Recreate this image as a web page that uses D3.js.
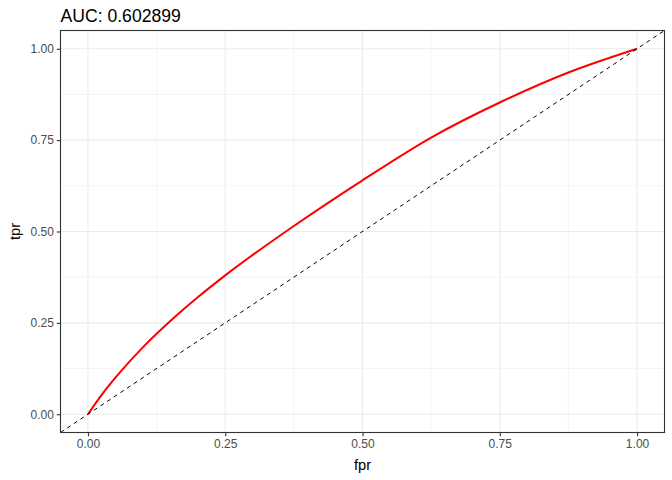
<!DOCTYPE html>
<html lang="en">
<head>
<meta charset="UTF-8">
<title>AUC: 0.602899</title>
<style>
body { margin: 0; background: #fff; }
svg text { font-family: 'Liberation Sans', Arial, sans-serif; }
.tick text { fill: #4d4d4d; font-size: 12px; }
</style>
</head>
<body>
<svg id="chart" width="672" height="480"></svg>
<script src="https://d3js.org/d3.v7.min.js"></script>
<script>
// roc points
var fpr = [0, 0.025, 0.05, 0.1, 0.15, 0.2, 0.25, 0.375, 0.5, 0.625, 0.75, 0.875, 1];
var tpr = [0, 0.053, 0.10, 0.183, 0.255, 0.32, 0.38, 0.515, 0.64, 0.757, 0.853, 0.935, 1];
var ticks = [0, 0.25, 0.5, 0.75, 1];
var minorTicks = [0.125, 0.375, 0.625, 0.875];

var svg = d3.select("#chart");
var pLeft = 60.5, pRight = 664.5, pTop = 30.5, pBottom = 432.5;

var x = d3.scaleLinear().domain([-0.05, 1.05]).range([pLeft, pRight]);
var y = d3.scaleLinear().domain([-0.05, 1.05]).range([pBottom, pTop]);

svg.append("rect").attr("width", 672).attr("height", 480).attr("fill", "#fff");

svg.append("defs").append("clipPath").attr("id", "panel")
  .append("rect").attr("x", pLeft).attr("y", pTop)
  .attr("width", pRight - pLeft).attr("height", pBottom - pTop);

var grid = svg.append("g");
grid.selectAll(".vmin").data(minorTicks).enter().append("line")
  .attr("x1", d => x(d)).attr("x2", d => x(d)).attr("y1", pTop).attr("y2", pBottom)
  .attr("stroke", "#ebebeb").attr("stroke-width", 0.55);
grid.selectAll(".hmin").data(minorTicks).enter().append("line")
  .attr("y1", d => y(d)).attr("y2", d => y(d)).attr("x1", pLeft).attr("x2", pRight)
  .attr("stroke", "#ebebeb").attr("stroke-width", 0.55);
grid.selectAll(".vmaj").data(ticks).enter().append("line")
  .attr("x1", d => x(d)).attr("x2", d => x(d)).attr("y1", pTop).attr("y2", pBottom)
  .attr("stroke", "#ebebeb").attr("stroke-width", 1.1);
grid.selectAll(".hmaj").data(ticks).enter().append("line")
  .attr("y1", d => y(d)).attr("y2", d => y(d)).attr("x1", pLeft).attr("x2", pRight)
  .attr("stroke", "#ebebeb").attr("stroke-width", 1.1);

var pts = fpr.map((f, i) => [f, tpr[i]]);
var line = d3.line().x(d => x(d[0])).y(d => y(d[1])).curve(d3.curveMonotoneX);

svg.append("path").datum(pts)
  .attr("d", line)
  .attr("fill", "none").attr("stroke", "#ff0000").attr("stroke-width", 2);

// diagonal reference line
svg.append("line").attr("clip-path", "url(#panel)")
  .attr("x1", x(-0.05)).attr("y1", y(-0.05)).attr("x2", x(1.05)).attr("y2", y(1.05))
  .attr("stroke", "#000").attr("stroke-width", 1).attr("stroke-dasharray", "4,4");

svg.append("rect").attr("x", pLeft).attr("y", pTop)
  .attr("width", pRight - pLeft).attr("height", pBottom - pTop)
  .attr("fill", "none").attr("stroke", "#333333").attr("stroke-width", 1.1);

var fmt = d3.format(".2f");
var xAxis = svg.append("g").attr("transform", "translate(0," + pBottom + ")")
  .call(d3.axisBottom(x).tickValues(ticks).tickFormat(fmt).tickSize(3.7).tickPadding(3.5));
var yAxis = svg.append("g").attr("transform", "translate(" + pLeft + ",0)")
  .call(d3.axisLeft(y).tickValues(ticks).tickFormat(fmt).tickSize(3.7).tickPadding(3));
[xAxis, yAxis].forEach(function (a) {
  a.select(".domain").remove();
  a.selectAll(".tick line").attr("stroke", "#333333").attr("stroke-width", 1.1);
  a.selectAll(".tick text").attr("font-family", null).attr("font-size", null);
});

svg.append("text").attr("x", (pLeft + pRight) / 2).attr("y", 470)
  .attr("text-anchor", "middle").attr("font-size", 14.7).attr("fill", "#000").text("fpr");
svg.append("text").attr("transform", "translate(20," + ((pTop + pBottom) / 2) + ") rotate(-90)")
  .attr("text-anchor", "middle").attr("font-size", 14.7).attr("fill", "#000").text("tpr");

svg.append("text").attr("x", pLeft).attr("y", 22)
  .attr("font-size", 17.6).attr("fill", "#000").text("AUC: 0.602899");
</script>
</body>
</html>
